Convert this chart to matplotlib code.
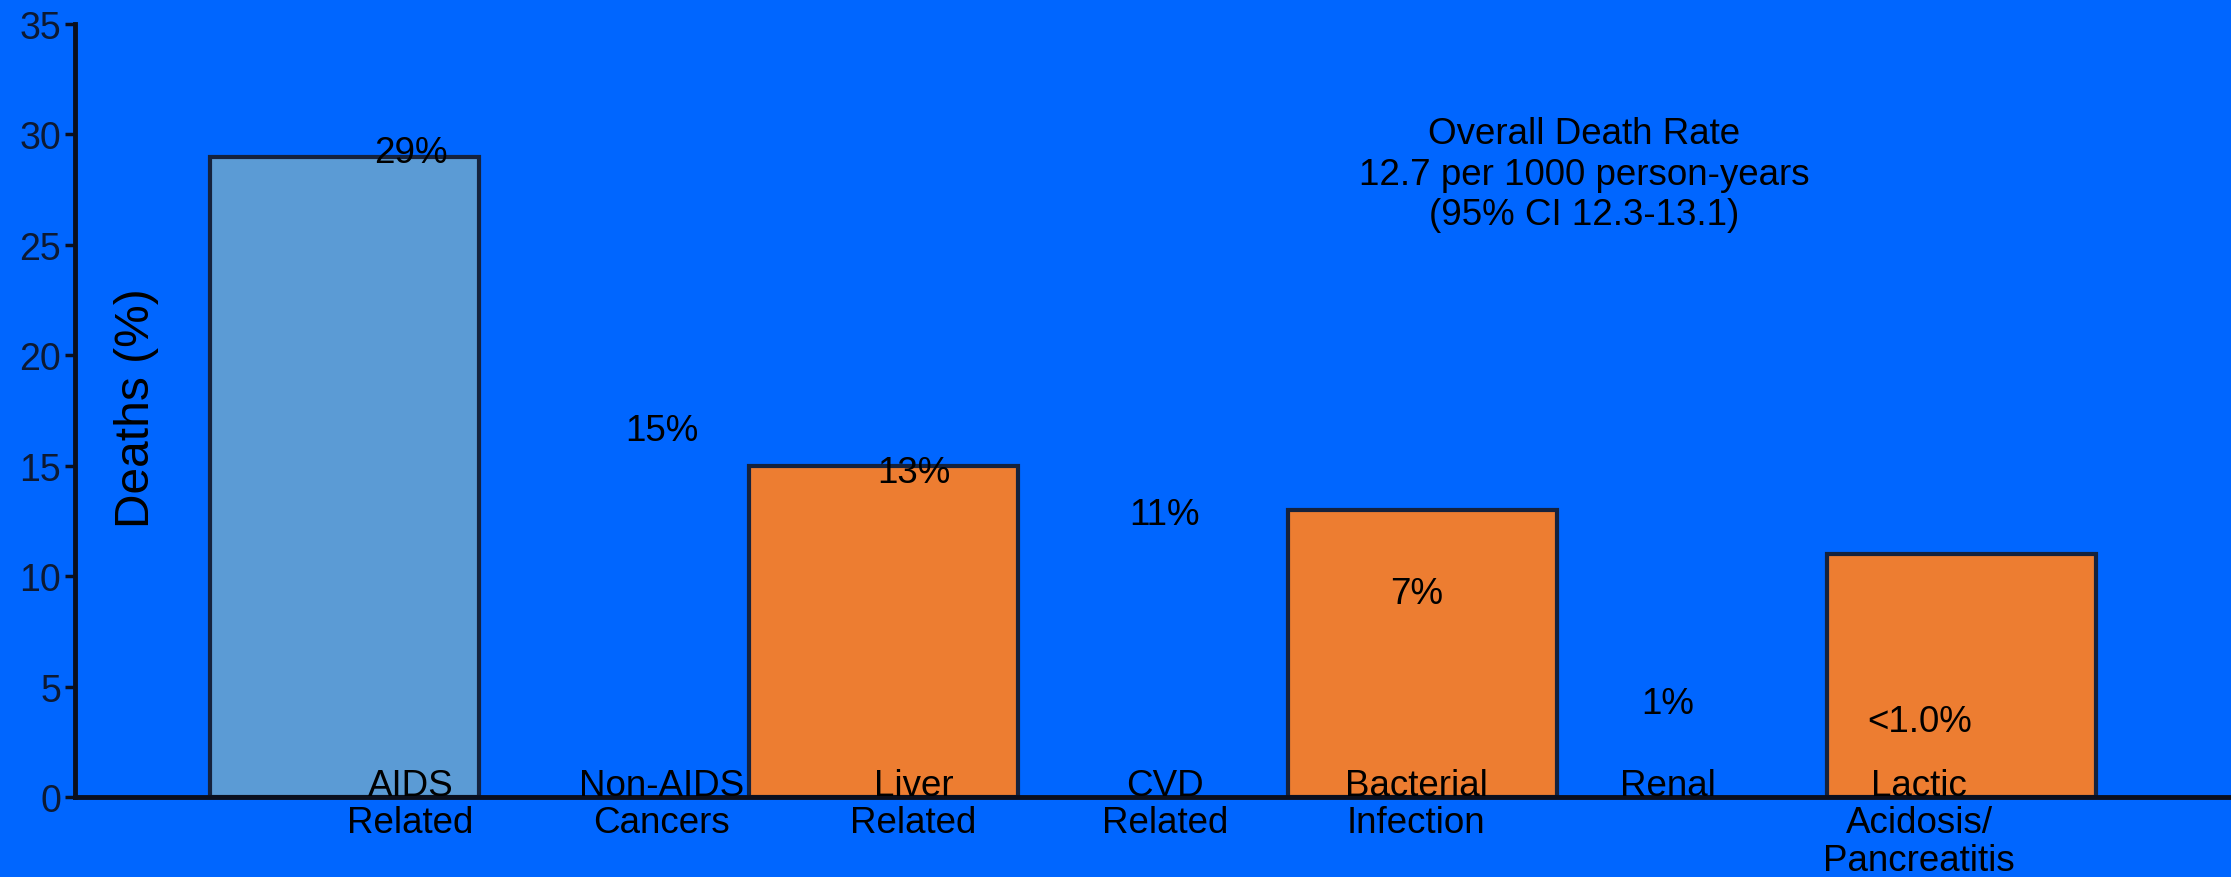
import matplotlib
matplotlib.use("Agg")
import matplotlib.pyplot as plt

plt.rcParams['font.family'] = ['Liberation Sans', 'DejaVu Sans']

# cause-of-death shares (%)
categories = ['AIDS\nRelated', 'Non-AIDS\nCancers', 'Liver\nRelated', 'CVD\nRelated',
              'Bacterial\nInfection', 'Renal', 'Lactic\nAcidosis/\nPancreatitis']
pct_labels = ['29%', '15%', '13%', '11%', '7%', '1%', '<1.0%']

# bars drawn on every other slot
bar_slots = [0, 2, 4, 6]
bar_values = [29, 15, 13, 11]
bar_colors = ['#5b9bd5', '#ed7d31', '#ed7d31', '#ed7d31']

# vertical placement of the percentage text
pct_label_y = [29.2, 16.6, 14.7, 12.8, 9.2, 4.25, 3.4]

note = 'Overall Death Rate\n12.7 per 1000 person-years\n(95% CI 12.3-13.1)'

bg = '#0066ff'
fig = plt.figure(figsize=(22.31, 8.78), dpi=100, facecolor=bg)
ax = fig.add_axes([0.0336, 0.0911, 1 - 0.0336, 0.8804], facecolor=bg)

ax.bar(bar_slots, bar_values, width=1.0, color=bar_colors,
       edgecolor='#15223d', linewidth=3, zorder=2)

ax.set_xlim(-1, 7)
ax.set_ylim(0, 35)
ax.set_yticks(range(0, 36, 5))
ax.set_xticks([])

for side in ['top', 'right']:
    ax.spines[side].set_visible(False)
for side in ['left', 'bottom']:
    ax.spines[side].set_linewidth(3.5)
    ax.spines[side].set_color('#0a0f1e')
    ax.spines[side].set_zorder(3)

ax.tick_params(axis='y', length=7, width=2.5, color='#0a0f1e', pad=3,
               labelsize=27, labelcolor='#0d1a33')

ax.set_ylabel('Deaths (%)', fontsize=34.5, color='black')
ax.yaxis.set_label_coords(0.039, 0.505)

# category names and percentages, spaced a bit tighter than the bars
for i, (cat, pct) in enumerate(zip(categories, pct_labels)):
    x = 0.245 + 0.933 * i
    ax.text(x, 1.3, cat, ha='center', va='top', fontsize=26.5,
            linespacing=1.08, color='black', zorder=4, clip_on=False)
    ax.text(x, pct_label_y[i], pct, ha='center', va='center',
            fontsize=26.5, color='black', zorder=4)

ax.text(4.6, 28.2, note, ha='center', va='center', fontsize=26.5,
        linespacing=1.2, color='black')

fig.savefig('out.png', dpi=100, facecolor=bg)
